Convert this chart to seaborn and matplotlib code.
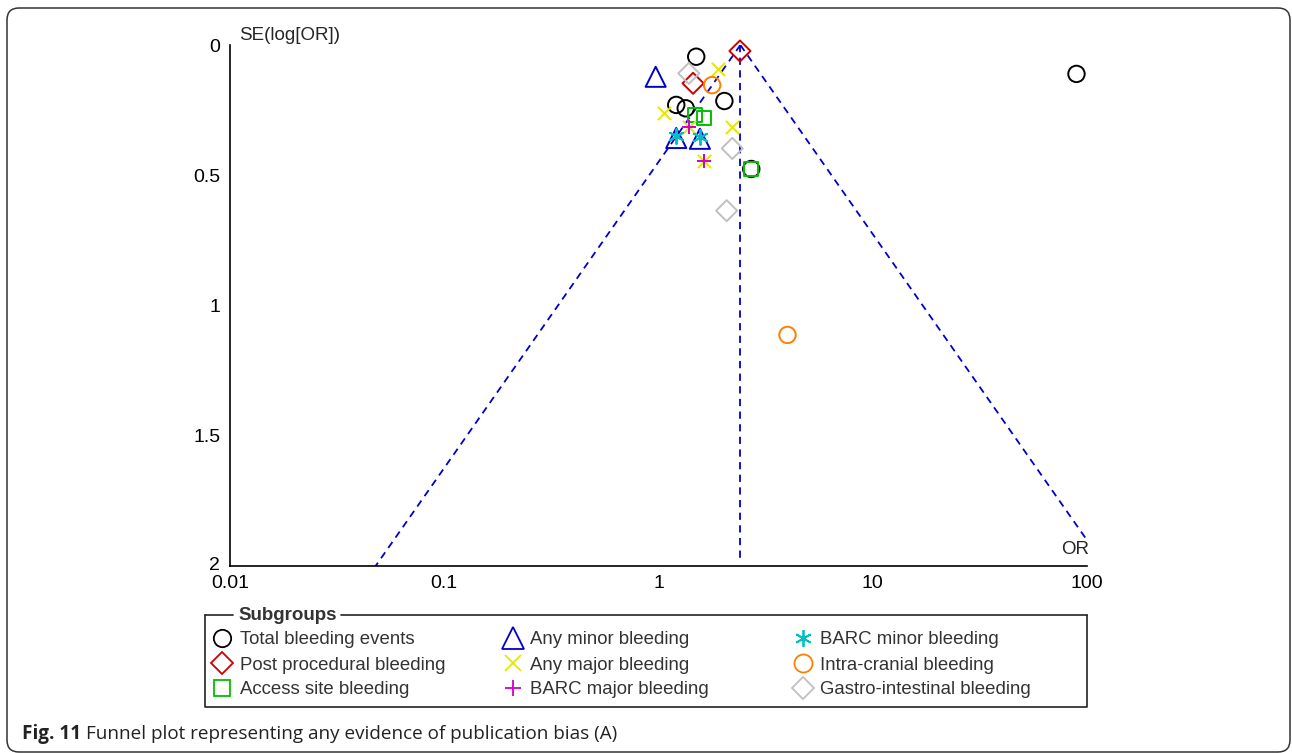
import numpy as np
import matplotlib
matplotlib.use("Agg")
import matplotlib.pyplot as plt
import seaborn as sns
from matplotlib.lines import Line2D
from matplotlib.patches import FancyBboxPatch
from matplotlib.transforms import IdentityTransform, ScaledTranslation
from matplotlib.ticker import NullLocator

# ---- data: odds ratios and standard errors of log(OR) per subgroup ----
total_or = [1.50, 2.03, 1.21, 1.34, 2.71, 89.3]
total_se = [0.045, 0.215, 0.230, 0.243, 0.476, 0.111]
post_or = [2.40, 1.45]
post_se = [0.023, 0.147]
access_or = [1.48, 1.63, 2.71]
access_se = [0.269, 0.281, 0.476]
minor_or = [0.97, 1.21, 1.56]
minor_se = [0.122, 0.357, 0.360]
major_or = [1.89, 1.06, 1.385, 2.21, 1.63]
major_se = [0.093, 0.260, 0.314, 0.314, 0.445]
barc_major_or = [1.385, 1.63]
barc_major_se = [0.314, 0.445]
barc_minor_or = [1.21, 1.56]
barc_minor_se = [0.350, 0.355]
ic_or = [1.78, 4.00]
ic_se = [0.154, 1.113]
gi_or = [1.385, 2.21, 2.08]
gi_se = [0.109, 0.397, 0.636]

pooled_or = 2.41

subgroup_labels = ["Total bleeding events", "Post procedural bleeding", "Access site bleeding",
                   "Any minor bleeding", "Any major bleeding", "BARC major bleeding",
                   "BARC minor bleeding", "Intra-cranial bleeding", "Gastro-intestinal bleeding"]
x_ticks = [0.01, 0.1, 1, 10, 100]
x_tick_labels = ["0.01", "0.1", "1", "10", "100"]
y_ticks = [0, 0.5, 1, 1.5, 2]
y_tick_labels = ["0", "0.5", "1", "1.5", "2"]

sns.set_style("white")
plt.rcParams["font.family"] = ["Liberation Sans", "DejaVu Sans"]

W, H = 1292, 753
fig = plt.figure(figsize=(W / 100, H / 100), dpi=100)


def fx(px):
    return px / W


def fy(py):
    return 1 - py / H


ax = fig.add_axes([fx(230), fy(566), fx(1087) - fx(230), fy(45) - fy(566)])
ax.set_facecolor("white")

# marker styles: (marker, color, area, outline-only?)
styles = [
    ("o", "#000000", 140, True),
    ("D", "#cc0000", 115, True),
    ("s", "#00c000", 105, True),
    ("^", "#0000cc", 210, True),
    ("x", "#e6e600", 90, False),
    ("+", "#cc00cc", 110, False),
    ((6, 2, 0), "#00c0c0", 115, False),
    ("o", "#ff8000", 140, True),
    ("D", "#c0c0c0", 115, True),
]
series = [(total_or, total_se), (post_or, post_se), (access_or, access_se),
          (minor_or, minor_se), (major_or, major_se), (barc_major_or, barc_major_se),
          (barc_minor_or, barc_minor_se), (ic_or, ic_se), (gi_or, gi_se)]

# funnel: pooled estimate with 95% pseudo-confidence limits
se_grid = np.linspace(0, 2, 200)
dash_kw = dict(color="#0000cc", lw=1.3, dashes=(4, 3), zorder=1)
ax.plot(pooled_or * np.exp(-1.96 * se_grid), se_grid, **dash_kw)
ax.plot(pooled_or * np.exp(1.96 * se_grid), se_grid, **dash_kw)
ax.plot([pooled_or, pooled_or], [0, 1.97], **dash_kw)

MLW = 1.4
for (m, c, s, filled), (xs, ys) in zip(styles, series):
    if filled:
        sns.scatterplot(x=xs, y=ys, ax=ax, marker=m, s=s, facecolor="none",
                        edgecolor=c, linewidth=MLW, clip_on=False, zorder=3)
    else:
        sns.scatterplot(x=xs, y=ys, ax=ax, marker=m, s=s, color=c,
                        linewidth=MLW, clip_on=False, zorder=3)

ax.set_xscale("log")
ax.set_xlim(0.01, 100)
ax.set_ylim(2, 0)
ax.set_xticks(x_ticks)
ax.set_xticklabels(x_tick_labels)
ax.xaxis.set_minor_locator(NullLocator())
ax.set_yticks(y_ticks)
ax.set_yticklabels(y_tick_labels)
for side in ("top", "right"):
    ax.spines[side].set_visible(False)
for side in ("left", "bottom"):
    ax.spines[side].set_linewidth(1.2)
    ax.spines[side].set_color("black")
ax.tick_params(axis="both", direction="inout", length=9, width=1.2,
               labelsize=14, colors="black")
ax.tick_params(axis="x", pad=2.2)
ax.tick_params(axis="y", pad=2.5)
ax.set_xlabel("")
ax.set_ylabel("")

# lift the bottom y label a little so it clears the first x label
bottom_lab = ax.get_yticklabels()[-1]
bottom_lab.set_transform(bottom_lab.get_transform() + ScaledTranslation(0, 3 / 100, fig.dpi_scale_trans))

fig.text(fx(239), fy(35), "SE(log[OR])", fontsize=13.5, ha="left", va="center")
fig.text(fx(1089), fy(550), "OR", fontsize=13.5, ha="right", va="center")

# ---- legend box with inset title ----
renderer = fig.canvas.get_renderer()
leg_l, leg_r, leg_t, leg_b = 205, 1087, 615, 707
title = fig.text(fx(238), fy(leg_t + 1), "Subgroups", fontsize=13.5, fontweight="bold",
                 color="#333333", ha="left", va="center")
tb = title.get_window_extent(renderer)
gap_l, gap_r = 233, 238 + tb.width + 4
frame_kw = dict(color="#222222", lw=1.2, transform=fig.transFigure)
fig.add_artist(Line2D([fx(leg_l), fx(gap_l)], [fy(leg_t)] * 2, **frame_kw))
fig.add_artist(Line2D([fx(gap_r), fx(leg_r)], [fy(leg_t)] * 2, **frame_kw))
fig.add_artist(Line2D([fx(leg_l), fx(leg_l), fx(leg_r), fx(leg_r)],
                      [fy(leg_t), fy(leg_b), fy(leg_b), fy(leg_t)], **frame_kw))

leg_marker_sizes = [12.5, 11.5, 11.5, 16.0, 11.0, 11.0, 12.0, 13.0, 11.5]
mark_x = [222, 513, 803]
text_x = [240, 530, 820]
rows_y = [638, 663, 688]
for i, lab in enumerate(subgroup_labels):
    col, row = divmod(i, 3)
    m, c, s, filled = styles[i]
    kw = dict(marker=m, markersize=leg_marker_sizes[i], markeredgewidth=1.3,
              linestyle="none", transform=fig.transFigure)
    if filled:
        kw.update(markerfacecolor="none", markeredgecolor=c)
    else:
        kw.update(color=c)
    fig.add_artist(Line2D([fx(mark_x[col])], [fy(rows_y[row])], **kw))
    fig.text(fx(text_x[col]), fy(rows_y[row] + 2), lab, fontsize=13.4, color="#333333",
             ha="left", va="center")

# ---- caption and outer frame ----
cap1 = fig.text(fx(22), fy(734), "Fig. 11", fontsize=13.6, fontweight="bold",
                family="Open Sans", color="#222222", ha="left", va="center")
cb = cap1.get_window_extent(renderer)
fig.text((cb.x1 + 5) / W, fy(734), "Funnel plot representing any evidence of publication bias (A)",
         fontsize=13.6, family="Open Sans", color="#222222", ha="left", va="center")

fig.add_artist(FancyBboxPatch((7, 1), 1283, 744, boxstyle="round,pad=0,rounding_size=12",
                              transform=IdentityTransform(), facecolor="none",
                              edgecolor="#333333", lw=1.1))

fig.savefig("out.png", dpi=100)
